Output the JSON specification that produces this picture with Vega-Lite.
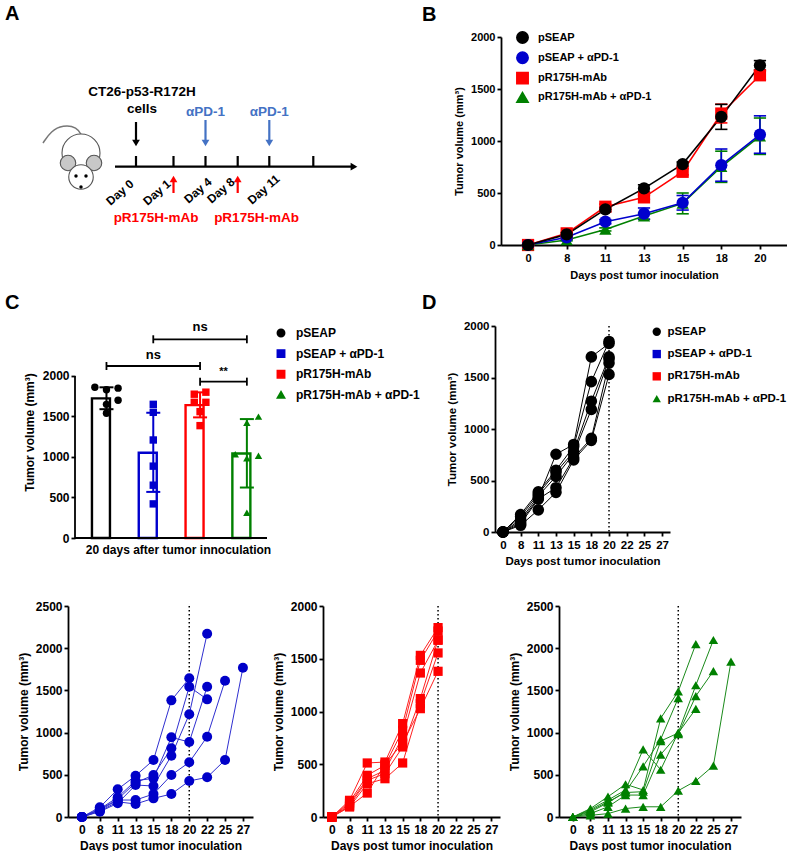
{
  "$schema": "https://vega.github.io/schema/vega-lite/v6.json",
  "padding": {"left": 5, "top": 4, "right": 0, "bottom": 0},
  "config": {
    "font": "Liberation Sans",
    "view": {"stroke": null},
    "axis": {"domainColor": "black", "domainWidth": 1.8, "tickColor": "black", "tickWidth": 1.8, "tickSize": 4, "labelColor": "black", "labelFont": "Liberation Sans", "labelFontWeight": "bold", "labelFontSize": 11, "labelPadding": 2, "titleColor": "black", "titleFont": "Liberation Sans", "titleFontWeight": "bold", "titleFontSize": 11, "grid": false, "labelAngle": 0},
    "legend": {"labelFont": "Liberation Sans", "labelFontWeight": "bold", "labelColor": "black", "labelFontSize": 11},
    "title": {"font": "Liberation Sans", "fontSize": 20, "fontWeight": "bold", "color": "black", "anchor": "start", "frame": "group", "baseline": "alphabetic"}
  },
  "datasets": {
    "bdata": [
      {"g": "pR175H-mAb", "d": 0, "m": 0, "lo": 0, "hi": 0},
      {"g": "pR175H-mAb", "d": 8, "m": 112, "lo": 102, "hi": 122},
      {"g": "pR175H-mAb", "d": 11, "m": 368, "lo": 343, "hi": 393},
      {"g": "pR175H-mAb", "d": 13, "m": 458, "lo": 438, "hi": 478},
      {"g": "pR175H-mAb", "d": 15, "m": 704, "lo": 674, "hi": 734},
      {"g": "pR175H-mAb", "d": 18, "m": 1264, "lo": 1174, "hi": 1354},
      {"g": "pR175H-mAb", "d": 20, "m": 1632, "lo": 1592, "hi": 1672},
      {"g": "pR175H-mAb + αPD-1", "d": 0, "m": 0, "lo": 0, "hi": 0},
      {"g": "pR175H-mAb + αPD-1", "d": 8, "m": 48, "lo": 40, "hi": 56},
      {"g": "pR175H-mAb + αPD-1", "d": 11, "m": 150, "lo": 135, "hi": 165},
      {"g": "pR175H-mAb + αPD-1", "d": 13, "m": 278, "lo": 248, "hi": 308},
      {"g": "pR175H-mAb + αPD-1", "d": 15, "m": 400, "lo": 300, "hi": 500},
      {"g": "pR175H-mAb + αPD-1", "d": 18, "m": 752, "lo": 602, "hi": 902},
      {"g": "pR175H-mAb + αPD-1", "d": 20, "m": 1046, "lo": 871, "hi": 1221},
      {"g": "pSEAP + αPD-1", "d": 0, "m": 0, "lo": 0, "hi": 0},
      {"g": "pSEAP + αPD-1", "d": 8, "m": 74, "lo": 64, "hi": 84},
      {"g": "pSEAP + αPD-1", "d": 11, "m": 224, "lo": 204, "hi": 244},
      {"g": "pSEAP + αPD-1", "d": 13, "m": 301, "lo": 246, "hi": 356},
      {"g": "pSEAP + αPD-1", "d": 15, "m": 406, "lo": 336, "hi": 476},
      {"g": "pSEAP + αPD-1", "d": 18, "m": 768, "lo": 613, "hi": 923},
      {"g": "pSEAP + αPD-1", "d": 20, "m": 1062, "lo": 882, "hi": 1242},
      {"g": "pSEAP", "d": 0, "m": 0, "lo": 0, "hi": 0},
      {"g": "pSEAP", "d": 8, "m": 102, "lo": 87, "hi": 117},
      {"g": "pSEAP", "d": 11, "m": 342, "lo": 322, "hi": 362},
      {"g": "pSEAP", "d": 13, "m": 544, "lo": 509, "hi": 579},
      {"g": "pSEAP", "d": 15, "m": 778, "lo": 758, "hi": 798},
      {"g": "pSEAP", "d": 18, "m": 1232, "lo": 1112, "hi": 1352},
      {"g": "pSEAP", "d": 20, "m": 1728, "lo": 1683, "hi": 1773}
    ],
    "cbar": [
      {"g": "pSEAP", "m": 1724, "lo": 1590, "hi": 1860},
      {"g": "pSEAP + αPD-1", "m": 1052, "lo": 569, "hi": 1546},
      {"g": "pR175H-mAb", "m": 1640, "lo": 1489, "hi": 1798},
      {"g": "pR175H-mAb + αPD-1", "m": 1043, "lo": 623, "hi": 1468}
    ],
    "cpts": [
      {"g": "pSEAP", "s": "a", "v": 1860}, {"g": "pSEAP", "s": "c", "v": 1830}, {"g": "pSEAP", "s": "e", "v": 1850},
      {"g": "pSEAP", "s": "c", "v": 1650}, {"g": "pSEAP", "s": "e", "v": 1700}, {"g": "pSEAP", "s": "c", "v": 1540},
      {"g": "pSEAP + αPD-1", "s": "c", "v": 1650}, {"g": "pSEAP + αPD-1", "s": "c", "v": 1552}, {"g": "pSEAP + αPD-1", "s": "c", "v": 1210},
      {"g": "pSEAP + αPD-1", "s": "c", "v": 887}, {"g": "pSEAP + αPD-1", "s": "c", "v": 652}, {"g": "pSEAP + αPD-1", "s": "c", "v": 421},
      {"g": "pR175H-mAb", "s": "b", "v": 1775}, {"g": "pR175H-mAb", "s": "d", "v": 1800}, {"g": "pR175H-mAb", "s": "b", "v": 1675},
      {"g": "pR175H-mAb", "s": "d", "v": 1675}, {"g": "pR175H-mAb", "s": "c", "v": 1560}, {"g": "pR175H-mAb", "s": "c", "v": 1387},
      {"g": "pR175H-mAb + αPD-1", "s": "e", "v": 1498}, {"g": "pR175H-mAb + αPD-1", "s": "c", "v": 1423}, {"g": "pR175H-mAb + αPD-1", "s": "a", "v": 1033},
      {"g": "pR175H-mAb + αPD-1", "s": "c", "v": 984}, {"g": "pR175H-mAb + αPD-1", "s": "e", "v": 1016}, {"g": "pR175H-mAb + αPD-1", "s": "c", "v": 312}
    ],
    "cbr": [
      {"g1": "pSEAP", "g2": "pR175H-mAb", "y": 2123},
      {"g1": "pSEAP + αPD-1", "g2": "pR175H-mAb + αPD-1", "y": 2453},
      {"g1": "pR175H-mAb", "g2": "pR175H-mAb + αPD-1", "y": 1930}
    ],
    "dmice": [
      {"m": 1, "d": 0, "v": 0}, {"m": 1, "d": 8, "v": 100}, {"m": 1, "d": 11, "v": 330}, {"m": 1, "d": 13, "v": 755}, {"m": 1, "d": 15, "v": 850}, {"m": 1, "d": 18, "v": 1700}, {"m": 1, "d": 20, "v": 1830},
      {"m": 2, "d": 0, "v": 0}, {"m": 2, "d": 8, "v": 170}, {"m": 2, "d": 11, "v": 390}, {"m": 2, "d": 13, "v": 600}, {"m": 2, "d": 15, "v": 830}, {"m": 2, "d": 18, "v": 1460}, {"m": 2, "d": 20, "v": 1850},
      {"m": 3, "d": 0, "v": 0}, {"m": 3, "d": 8, "v": 150}, {"m": 3, "d": 11, "v": 370}, {"m": 3, "d": 13, "v": 580}, {"m": 3, "d": 15, "v": 780}, {"m": 3, "d": 18, "v": 1270}, {"m": 3, "d": 20, "v": 1700},
      {"m": 4, "d": 0, "v": 0}, {"m": 4, "d": 8, "v": 120}, {"m": 4, "d": 11, "v": 350}, {"m": 4, "d": 13, "v": 540}, {"m": 4, "d": 15, "v": 760}, {"m": 4, "d": 18, "v": 1190}, {"m": 4, "d": 20, "v": 1680},
      {"m": 5, "d": 0, "v": 0}, {"m": 5, "d": 8, "v": 80}, {"m": 5, "d": 11, "v": 320}, {"m": 5, "d": 13, "v": 430}, {"m": 5, "d": 15, "v": 720}, {"m": 5, "d": 18, "v": 910}, {"m": 5, "d": 20, "v": 1640},
      {"m": 6, "d": 0, "v": 0}, {"m": 6, "d": 8, "v": 65}, {"m": 6, "d": 11, "v": 215}, {"m": 6, "d": 13, "v": 385}, {"m": 6, "d": 15, "v": 700}, {"m": 6, "d": 18, "v": 890}, {"m": 6, "d": 20, "v": 1530}
    ],
    "bmice": [
      {"m": 1, "d": 0, "v": 0}, {"m": 1, "d": 8, "v": 115}, {"m": 1, "d": 11, "v": 328}, {"m": 1, "d": 13, "v": 489}, {"m": 1, "d": 15, "v": 675}, {"m": 1, "d": 18, "v": 1382}, {"m": 1, "d": 20, "v": 1643},
      {"m": 2, "d": 0, "v": 0}, {"m": 2, "d": 8, "v": 95}, {"m": 2, "d": 11, "v": 233}, {"m": 2, "d": 13, "v": 430}, {"m": 2, "d": 15, "v": 458}, {"m": 2, "d": 18, "v": 944}, {"m": 2, "d": 20, "v": 888}, {"m": 2, "d": 22, "v": 1544},
      {"m": 3, "d": 0, "v": 0}, {"m": 3, "d": 8, "v": 90}, {"m": 3, "d": 11, "v": 210}, {"m": 3, "d": 13, "v": 406}, {"m": 3, "d": 15, "v": 497}, {"m": 3, "d": 18, "v": 814}, {"m": 3, "d": 20, "v": 1544}, {"m": 3, "d": 22, "v": 1394},
      {"m": 4, "d": 0, "v": 0}, {"m": 4, "d": 8, "v": 63}, {"m": 4, "d": 11, "v": 162}, {"m": 4, "d": 13, "v": 379}, {"m": 4, "d": 15, "v": 367}, {"m": 4, "d": 18, "v": 726}, {"m": 4, "d": 20, "v": 1217}, {"m": 4, "d": 22, "v": 2172},
      {"m": 5, "d": 0, "v": 0}, {"m": 5, "d": 8, "v": 80}, {"m": 5, "d": 11, "v": 201}, {"m": 5, "d": 13, "v": 201}, {"m": 5, "d": 15, "v": 272}, {"m": 5, "d": 18, "v": 497}, {"m": 5, "d": 20, "v": 648}, {"m": 5, "d": 22, "v": 951}, {"m": 5, "d": 25, "v": 1614},
      {"m": 6, "d": 0, "v": 0}, {"m": 6, "d": 8, "v": 70}, {"m": 6, "d": 11, "v": 180}, {"m": 6, "d": 13, "v": 154}, {"m": 6, "d": 15, "v": 221}, {"m": 6, "d": 18, "v": 272}, {"m": 6, "d": 20, "v": 427}, {"m": 6, "d": 22, "v": 470}, {"m": 6, "d": 25, "v": 675}, {"m": 6, "d": 27, "v": 1769}
    ],
    "rmice": [
      {"m": 1, "d": 0, "v": 0}, {"m": 1, "d": 8, "v": 158}, {"m": 1, "d": 11, "v": 512}, {"m": 1, "d": 13, "v": 521}, {"m": 1, "d": 15, "v": 885}, {"m": 1, "d": 18, "v": 1532}, {"m": 1, "d": 20, "v": 1795},
      {"m": 2, "d": 0, "v": 0}, {"m": 2, "d": 8, "v": 142}, {"m": 2, "d": 11, "v": 395}, {"m": 2, "d": 13, "v": 490}, {"m": 2, "d": 15, "v": 821}, {"m": 2, "d": 18, "v": 1485}, {"m": 2, "d": 20, "v": 1763},
      {"m": 3, "d": 0, "v": 0}, {"m": 3, "d": 8, "v": 126}, {"m": 3, "d": 11, "v": 363}, {"m": 3, "d": 13, "v": 442}, {"m": 3, "d": 15, "v": 758}, {"m": 3, "d": 18, "v": 1365}, {"m": 3, "d": 20, "v": 1675},
      {"m": 4, "d": 0, "v": 0}, {"m": 4, "d": 8, "v": 110}, {"m": 4, "d": 11, "v": 348}, {"m": 4, "d": 13, "v": 411}, {"m": 4, "d": 15, "v": 664}, {"m": 4, "d": 18, "v": 1122}, {"m": 4, "d": 20, "v": 1680},
      {"m": 5, "d": 0, "v": 0}, {"m": 5, "d": 8, "v": 95}, {"m": 5, "d": 11, "v": 316}, {"m": 5, "d": 13, "v": 363}, {"m": 5, "d": 15, "v": 512}, {"m": 5, "d": 18, "v": 1074}, {"m": 5, "d": 20, "v": 1555},
      {"m": 6, "d": 0, "v": 0}, {"m": 6, "d": 8, "v": 100}, {"m": 6, "d": 11, "v": 227}, {"m": 6, "d": 13, "v": 500}, {"m": 6, "d": 15, "v": 700}, {"m": 6, "d": 18, "v": 1027}, {"m": 6, "d": 20, "v": 1381}
    ],
    "gmice": [
      {"m": 1, "d": 0, "v": 0}, {"m": 1, "d": 8, "v": 100}, {"m": 1, "d": 11, "v": 241}, {"m": 1, "d": 13, "v": 388}, {"m": 1, "d": 15, "v": 320}, {"m": 1, "d": 18, "v": 1169}, {"m": 1, "d": 20, "v": 1489}, {"m": 1, "d": 22, "v": 2049},
      {"m": 2, "d": 0, "v": 0}, {"m": 2, "d": 8, "v": 88}, {"m": 2, "d": 11, "v": 201}, {"m": 2, "d": 13, "v": 320}, {"m": 2, "d": 15, "v": 800}, {"m": 2, "d": 18, "v": 560}, {"m": 2, "d": 20, "v": 1001}, {"m": 2, "d": 22, "v": 1561}, {"m": 2, "d": 25, "v": 2097},
      {"m": 3, "d": 0, "v": 0}, {"m": 3, "d": 8, "v": 60}, {"m": 3, "d": 11, "v": 169}, {"m": 3, "d": 13, "v": 300}, {"m": 3, "d": 15, "v": 600}, {"m": 3, "d": 18, "v": 921}, {"m": 3, "d": 20, "v": 1409},
      {"m": 4, "d": 0, "v": 0}, {"m": 4, "d": 8, "v": 40}, {"m": 4, "d": 11, "v": 121}, {"m": 4, "d": 13, "v": 260}, {"m": 4, "d": 15, "v": 260}, {"m": 4, "d": 18, "v": 740}, {"m": 4, "d": 20, "v": 981}, {"m": 4, "d": 22, "v": 1433}, {"m": 4, "d": 25, "v": 1729},
      {"m": 5, "d": 0, "v": 0}, {"m": 5, "d": 8, "v": 20}, {"m": 5, "d": 11, "v": 40}, {"m": 5, "d": 13, "v": 100}, {"m": 5, "d": 15, "v": 121}, {"m": 5, "d": 18, "v": 121}, {"m": 5, "d": 20, "v": 312}, {"m": 5, "d": 22, "v": 428}, {"m": 5, "d": 25, "v": 608}, {"m": 5, "d": 27, "v": 1841},
      {"m": 6, "d": 0, "v": 0}, {"m": 6, "d": 8, "v": 75}, {"m": 6, "d": 11, "v": 180}, {"m": 6, "d": 13, "v": 290}, {"m": 6, "d": 15, "v": 300}, {"m": 6, "d": 18, "v": 900}, {"m": 6, "d": 20, "v": 995}, {"m": 6, "d": 22, "v": 1281}
    ]
  },
  "spacing": 33,
  "resolve": {"scale": {"color": "independent", "shape": "independent", "stroke": "independent", "fill": "independent", "size": "independent"}},
  "vconcat": [
    {
      "spacing": 12,
      "resolve": {"scale": {"color": "independent", "shape": "independent", "stroke": "independent", "fill": "independent", "size": "independent"}},
      "vconcat": [
        {
          "bounds": "flush",
          "spacing": 33,
          "resolve": {"scale": {"color": "independent", "shape": "independent", "stroke": "independent", "fill": "independent", "size": "independent"}},
          "hconcat": [
            {
              "width": 400,
              "height": 208,
              "title": {"text": "A", "dx": -63, "offset": 13},
              "encoding": {
                "x": {"field": "x", "type": "quantitative", "scale": {"domain": [68, 468], "nice": false, "zero": false}, "axis": null},
                "y": {"field": "y", "type": "quantitative", "scale": {"domain": [37, 245], "nice": false, "zero": false, "reverse": true}, "axis": null}
              },
              "layer": [
                {
                  "data": {"values": [{"x": 82, "y": 136, "o": 1}, {"x": 77, "y": 127, "o": 2}, {"x": 63, "y": 125, "o": 3}, {"x": 51, "y": 131, "o": 4}, {"x": 43, "y": 143, "o": 5}]},
                  "mark": {"type": "line", "color": "#777777", "strokeWidth": 1.5, "interpolate": "basis"},
                  "encoding": {"order": {"field": "o", "type": "quantitative"}}
                },
                {
                  "data": {"values": [{"x": 81, "y": 153}]},
                  "mark": {"type": "point", "filled": true, "opacity": 1, "fill": "white", "stroke": "#555555", "strokeWidth": 1.1, "size": 1444}
                },
                {
                  "data": {"values": [{"x": 68, "y": 163}, {"x": 94, "y": 163}]},
                  "mark": {"type": "point", "filled": true, "opacity": 1, "fill": "#c8c8c8", "stroke": "#555555", "strokeWidth": 1.1, "size": 240}
                },
                {
                  "data": {"values": [{"x": 81, "y": 177}]},
                  "mark": {"type": "point", "filled": true, "opacity": 1, "fill": "white", "stroke": "#555555", "strokeWidth": 1.1, "size": 600}
                },
                {
                  "data": {"values": [{"x": 76, "y": 176}, {"x": 86, "y": 176}, {"x": 81, "y": 187}]},
                  "mark": {"type": "point", "filled": true, "opacity": 1, "color": "black", "size": 12}
                },
                {
                  "data": {"values": [
                    {"x": 115, "y": 166.7, "x2": 352, "y2": 166.7, "c": "k"},
                    {"x": 136, "y": 156, "x2": 136, "y2": 166.7, "c": "k"},
                    {"x": 173.5, "y": 156, "x2": 173.5, "y2": 166.7, "c": "k"},
                    {"x": 205.5, "y": 156, "x2": 205.5, "y2": 166.7, "c": "k"},
                    {"x": 237.7, "y": 156, "x2": 237.7, "y2": 166.7, "c": "k"},
                    {"x": 269.3, "y": 156, "x2": 269.3, "y2": 166.7, "c": "k"},
                    {"x": 313.3, "y": 156, "x2": 313.3, "y2": 166.7, "c": "k"},
                    {"x": 136, "y": 122, "x2": 136, "y2": 141, "c": "k"},
                    {"x": 205.5, "y": 120, "x2": 205.5, "y2": 141, "c": "b"},
                    {"x": 269.3, "y": 120, "x2": 269.3, "y2": 141, "c": "b"},
                    {"x": 173.5, "y": 193, "x2": 173.5, "y2": 181, "c": "r"},
                    {"x": 237.7, "y": 193, "x2": 237.7, "y2": 181, "c": "r"}
                  ]},
                  "mark": {"type": "rule", "strokeWidth": 2.2},
                  "encoding": {
                    "x2": {"field": "x2"},
                    "y2": {"field": "y2"},
                    "color": {"field": "c", "type": "nominal", "scale": {"domain": ["k", "b", "r"], "range": ["#000000", "#4472C4", "#FF0000"]}, "legend": null}
                  }
                },
                {
                  "data": {"values": [
                    {"x": 354, "y": 166.7, "s": "triangle-right", "c": "k"},
                    {"x": 136, "y": 143, "s": "triangle-down", "c": "k"},
                    {"x": 205.5, "y": 143, "s": "triangle-down", "c": "b"},
                    {"x": 269.3, "y": 143, "s": "triangle-down", "c": "b"},
                    {"x": 173.5, "y": 179, "s": "triangle-up", "c": "r"},
                    {"x": 237.7, "y": 179, "s": "triangle-up", "c": "r"}
                  ]},
                  "mark": {"type": "point", "filled": true, "opacity": 1, "size": 60},
                  "encoding": {
                    "shape": {"field": "s", "type": "nominal", "scale": null},
                    "color": {"field": "c", "type": "nominal", "scale": {"domain": ["k", "b", "r"], "range": ["#000000", "#4472C4", "#FF0000"]}, "legend": null}
                  }
                },
                {
                  "data": {"values": [
                    {"x": 142, "y": 92, "t": "CT26-p53-R172H", "c": "k"},
                    {"x": 142, "y": 109, "t": "cells", "c": "k"},
                    {"x": 205.5, "y": 112, "t": "αPD-1", "c": "b"},
                    {"x": 269.3, "y": 112, "t": "αPD-1", "c": "b"},
                    {"x": 156, "y": 218, "t": "pR175H-mAb", "c": "r"},
                    {"x": 256.5, "y": 218, "t": "pR175H-mAb", "c": "r"}
                  ]},
                  "mark": {"type": "text", "fontSize": 13.5, "fontWeight": "bold", "baseline": "middle", "align": "center"},
                  "encoding": {
                    "text": {"field": "t"},
                    "color": {"field": "c", "type": "nominal", "scale": {"domain": ["k", "b", "r"], "range": ["#000000", "#4472C4", "#FF0000"]}, "legend": null}
                  }
                },
                {
                  "data": {"values": [
                    {"x": 132, "y": 182, "t": "Day 0"},
                    {"x": 169, "y": 182, "t": "Day 1"},
                    {"x": 210, "y": 180, "t": "Day 4"},
                    {"x": 233, "y": 180, "t": "Day 8"},
                    {"x": 278, "y": 177, "t": "Day 11"}
                  ]},
                  "mark": {"type": "text", "fontSize": 12, "fontWeight": "bold", "baseline": "middle", "align": "right", "angle": -41, "color": "black"},
                  "encoding": {"text": {"field": "t"}}
                }
              ]
            },
            {
              "width": 286,
              "height": 208,
              "title": {"text": "B", "dx": -79, "offset": 6},
              "data": {"name": "bdata"},
              "encoding": {
                "x": {"field": "d", "type": "ordinal", "scale": {"type": "point", "domain": [0, 8, 11, 13, 15, 18, 20], "padding": 0.7}, "axis": {"title": "Days post tumor inoculation", "labelPadding": 3, "titlePadding": 6}}
              },
              "layer": [
                {
                  "mark": {"type": "line", "strokeWidth": 1.6},
                  "encoding": {
                    "y": {"field": "m", "type": "quantitative", "title": "Tumor volume (mm³)", "scale": {"domain": [0, 2000], "nice": false}, "axis": {"values": [0, 500, 1000, 1500, 2000], "format": "d", "titlePadding": 6}},
                    "stroke": {"field": "g", "type": "nominal", "title": null, "scale": {"domain": ["pSEAP", "pSEAP + αPD-1", "pR175H-mAb", "pR175H-mAb + αPD-1"], "range": ["#000000", "#0000CD", "#FF0000", "#008000"]}, "legend": {"orient": "none", "legendX": 15, "legendY": -6, "symbolSize": 130, "labelFontSize": 11, "rowPadding": 1.3, "labelOffset": 9}}
                  }
                },
                {
                  "mark": {"type": "rule", "strokeWidth": 1.6},
                  "encoding": {
                    "y": {"field": "lo", "type": "quantitative", "title": "Tumor volume (mm³)"},
                    "y2": {"field": "hi"},
                    "stroke": {"field": "g", "type": "nominal", "title": null}
                  }
                },
                {
                  "mark": {"type": "point", "shape": "M-1,0L1,0", "size": 150, "strokeWidth": 1.6, "opacity": 1},
                  "encoding": {
                    "y": {"field": "lo", "type": "quantitative", "title": "Tumor volume (mm³)"},
                    "stroke": {"field": "g", "type": "nominal", "title": null}
                  }
                },
                {
                  "mark": {"type": "point", "shape": "M-1,0L1,0", "size": 150, "strokeWidth": 1.6, "opacity": 1},
                  "encoding": {
                    "y": {"field": "hi", "type": "quantitative", "title": "Tumor volume (mm³)"},
                    "stroke": {"field": "g", "type": "nominal", "title": null}
                  }
                },
                {
                  "mark": {"type": "point", "filled": true, "opacity": 1, "size": 150},
                  "encoding": {
                    "y": {"field": "m", "type": "quantitative", "title": "Tumor volume (mm³)"},
                    "color": {"field": "g", "type": "nominal", "title": null, "scale": {"domain": ["pSEAP", "pSEAP + αPD-1", "pR175H-mAb", "pR175H-mAb + αPD-1"], "range": ["#000000", "#0000CD", "#FF0000", "#008000"]}, "legend": {"orient": "none", "legendX": 15, "legendY": -6, "symbolSize": 130, "labelFontSize": 11, "rowPadding": 1.3, "labelOffset": 9}},
                    "shape": {"field": "g", "type": "nominal", "title": null, "scale": {"domain": ["pSEAP", "pSEAP + αPD-1", "pR175H-mAb", "pR175H-mAb + αPD-1"], "range": ["circle", "circle", "square", "triangle-up"]}}
                  }
                }
              ]
            }
          ]
        },
        {
          "bounds": "flush",
          "spacing": 228,
          "resolve": {"scale": {"color": "independent", "shape": "independent", "stroke": "independent", "fill": "independent", "size": "independent"}},
          "hconcat": [
            {
              "width": 199,
              "height": 212,
              "title": {"text": "C", "dx": -63, "offset": 8},
              "layer": [
                {
                  "data": {"name": "cbar"},
                  "mark": {"type": "bar", "fill": "white", "strokeWidth": 2.4},
                  "encoding": {
                    "x": {"field": "g", "type": "nominal", "scale": {"domain": ["pSEAP", "pSEAP + αPD-1", "pR175H-mAb", "pR175H-mAb + αPD-1"], "paddingInner": 0.38, "paddingOuter": 0.316, "align": 0.81}, "axis": {"labels": false, "ticks": false, "domain": false, "title": "20 days after tumor innoculation", "titleX": 110, "titleFontSize": 12, "titlePadding": 6}},
                    "y": {"field": "m", "type": "quantitative", "title": "Tumor volume (mm³)", "scale": {"domain": [0, 2617], "nice": false}, "axis": {"values": [0, 500, 1000, 1500, 2000], "format": "d", "domain": false, "offset": -7, "labelFontSize": 12, "titleFontSize": 12, "titlePadding": 6}},
                    "stroke": {"field": "g", "type": "nominal", "title": null, "scale": {"domain": ["pSEAP", "pSEAP + αPD-1", "pR175H-mAb", "pR175H-mAb + αPD-1"], "range": ["#000000", "#0000CD", "#FF0000", "#008000"]}, "legend": {"orient": "none", "legendX": 207, "legendY": 1, "symbolSize": 55, "labelFontSize": 12, "rowPadding": 6.6, "labelOffset": 9}}
                  }
                },
                {
                  "data": {"name": "cbar"},
                  "mark": {"type": "rule", "strokeWidth": 2},
                  "encoding": {
                    "x": {"field": "g", "type": "nominal"},
                    "y": {"field": "lo", "type": "quantitative", "title": "Tumor volume (mm³)"},
                    "y2": {"field": "hi"},
                    "stroke": {"field": "g", "type": "nominal", "title": null}
                  }
                },
                {
                  "data": {"name": "cbar"},
                  "mark": {"type": "point", "shape": "M-1,0L1,0", "size": 196, "strokeWidth": 2, "opacity": 1},
                  "encoding": {
                    "x": {"field": "g", "type": "nominal"},
                    "y": {"field": "lo", "type": "quantitative", "title": "Tumor volume (mm³)"},
                    "stroke": {"field": "g", "type": "nominal", "title": null}
                  }
                },
                {
                  "data": {"name": "cbar"},
                  "mark": {"type": "point", "shape": "M-1,0L1,0", "size": 196, "strokeWidth": 2, "opacity": 1},
                  "encoding": {
                    "x": {"field": "g", "type": "nominal"},
                    "y": {"field": "hi", "type": "quantitative", "title": "Tumor volume (mm³)"},
                    "stroke": {"field": "g", "type": "nominal", "title": null}
                  }
                },
                {
                  "data": {"name": "cpts"},
                  "mark": {"type": "point", "filled": true, "opacity": 1, "size": 55},
                  "encoding": {
                    "x": {"field": "g", "type": "nominal"},
                    "xOffset": {"field": "s", "type": "nominal", "scale": {"domain": ["a", "b", "c", "d", "e"]}},
                    "y": {"field": "v", "type": "quantitative", "title": "Tumor volume (mm³)"},
                    "color": {"field": "g", "type": "nominal", "title": null, "scale": {"domain": ["pSEAP", "pSEAP + αPD-1", "pR175H-mAb", "pR175H-mAb + αPD-1"], "range": ["#000000", "#0000CD", "#FF0000", "#008000"]}, "legend": {"orient": "none", "legendX": 207, "legendY": 1, "symbolSize": 55, "labelFontSize": 12, "rowPadding": 6.6, "labelOffset": 9}},
                    "shape": {"field": "g", "type": "nominal", "title": null, "scale": {"domain": ["pSEAP", "pSEAP + αPD-1", "pR175H-mAb", "pR175H-mAb + αPD-1"], "range": ["circle", "square", "square", "triangle-up"]}}
                  }
                },
                {
                  "data": {"name": "cbr"},
                  "mark": {"type": "rule", "strokeWidth": 1.8, "color": "black"},
                  "encoding": {
                    "x": {"field": "g1", "type": "nominal", "bandPosition": 0.5},
                    "x2": {"field": "g2", "bandPosition": 0.5},
                    "y": {"field": "y", "type": "quantitative", "title": "Tumor volume (mm³)"}
                  }
                },
                {
                  "data": {"name": "cbr"},
                  "mark": {"type": "point", "shape": "M0,-1L0,1", "size": 64, "strokeWidth": 1.8, "color": "black", "opacity": 1},
                  "encoding": {
                    "x": {"field": "g1", "type": "nominal"},
                    "y": {"field": "y", "type": "quantitative", "title": "Tumor volume (mm³)"}
                  }
                },
                {
                  "data": {"name": "cbr"},
                  "mark": {"type": "point", "shape": "M0,-1L0,1", "size": 64, "strokeWidth": 1.8, "color": "black", "opacity": 1},
                  "encoding": {
                    "x": {"field": "g2", "type": "nominal"},
                    "y": {"field": "y", "type": "quantitative", "title": "Tumor volume (mm³)"}
                  }
                },
                {
                  "data": {"values": [{"t": "ns", "g": "pSEAP + αPD-1", "y": 2259}, {"t": "ns", "g": "pR175H-mAb", "y": 2609}]},
                  "mark": {"type": "text", "fontSize": 13, "fontWeight": "bold", "baseline": "middle", "color": "black"},
                  "encoding": {
                    "x": {"field": "g", "type": "nominal"},
                    "y": {"field": "y", "type": "quantitative", "title": "Tumor volume (mm³)"},
                    "text": {"field": "t"}
                  }
                },
                {
                  "data": {"values": [{"t": "**", "g": "pR175H-mAb", "y": 2045}]},
                  "mark": {"type": "text", "fontSize": 11, "fontWeight": "bold", "baseline": "middle", "color": "black", "dx": 23.5},
                  "encoding": {
                    "x": {"field": "g", "type": "nominal"},
                    "y": {"field": "y", "type": "quantitative", "title": "Tumor volume (mm³)"},
                    "text": {"field": "t"}
                  }
                },
                {
                  "data": {"values": [{"a": 1}]},
                  "mark": {"type": "rule", "strokeWidth": 1.8, "color": "black"},
                  "encoding": {
                    "x": {"value": 7},
                    "y": {"datum": 0, "type": "quantitative"},
                    "y2": {"datum": 2000}
                  }
                },
                {
                  "data": {"values": [{"a": 1}]},
                  "mark": {"type": "rule", "strokeWidth": 1.8, "color": "black"},
                  "encoding": {
                    "x": {"value": 7},
                    "x2": {"value": 199},
                    "y": {"datum": 0, "type": "quantitative"}
                  }
                }
              ]
            },
            {
              "width": 175,
              "height": 206,
              "title": {"text": "D", "dx": -73, "offset": 7},
              "encoding": {
                "x": {"field": "d", "type": "ordinal", "scale": {"type": "point", "domain": [0, 8, 11, 13, 15, 18, 20, 22, 25, 27], "padding": 0.45}, "axis": {"title": "Days post tumor inoculation", "labelFontSize": 11.5, "titleFontSize": 11.5, "labelPadding": 3, "titlePadding": 5}}
              },
              "layer": [
                {
                  "data": {"values": [{"d": 20}]},
                  "mark": {"type": "rule", "strokeDash": [1.5, 2.5], "strokeWidth": 1.5, "color": "black"},
                  "encoding": {}
                },
                {
                  "data": {"name": "dmice"},
                  "mark": {"type": "line", "strokeWidth": 1, "color": "black"},
                  "encoding": {
                    "y": {"field": "v", "type": "quantitative", "title": "Tumor volume (mm³)", "scale": {"domain": [0, 2000], "nice": false}, "axis": {"values": [0, 500, 1000, 1500, 2000], "format": "d", "labelFontSize": 11.5, "titleFontSize": 11.5, "titlePadding": 6}},
                    "detail": {"field": "m", "type": "nominal"}
                  }
                },
                {
                  "data": {"name": "dmice"},
                  "mark": {"type": "point", "filled": true, "opacity": 1, "size": 135},
                  "encoding": {
                    "y": {"field": "v", "type": "quantitative", "title": "Tumor volume (mm³)"},
                    "color": {"datum": "pSEAP", "type": "nominal", "title": null, "scale": {"domain": ["pSEAP", "pSEAP + αPD-1", "pR175H-mAb", "pR175H-mAb + αPD-1"], "range": ["#000000", "#0000CD", "#FF0000", "#008000"]}, "legend": {"orient": "none", "legendX": 156, "legendY": 0, "symbolSize": 70, "labelFontSize": 11.5, "rowPadding": 9.3, "labelOffset": 5}},
                    "shape": {"datum": "pSEAP", "type": "nominal", "title": null, "scale": {"domain": ["pSEAP", "pSEAP + αPD-1", "pR175H-mAb", "pR175H-mAb + αPD-1"], "range": ["circle", "square", "square", "triangle-up"]}}
                  }
                }
              ]
            }
          ]
        }
      ]
    },
    {
      "bounds": "flush",
      "spacing": 1,
      "hconcat": [
        {
          "width": 185,
          "height": 211,
          "encoding": {
            "x": {"field": "d", "type": "ordinal", "scale": {"type": "point", "domain": [0, 8, 11, 13, 15, 18, 20, 22, 25, 27], "padding": 0.67, "align": 0.58}, "axis": {"title": "Days post tumor inoculation", "labelFontSize": 12, "titleFontSize": 12, "labelPadding": 3, "titlePadding": 5}}
          },
          "layer": [
            {
              "data": {"values": [{"d": 20}]},
              "mark": {"type": "rule", "strokeDash": [1.5, 2.5], "strokeWidth": 1.5, "color": "black"},
              "encoding": {}
            },
            {
              "data": {"name": "bmice"},
              "mark": {"type": "line", "strokeWidth": 1, "color": "#2F2FD0"},
              "encoding": {
                "y": {"field": "v", "type": "quantitative", "title": "Tumor volume (mm³)", "scale": {"domain": [0, 2500], "nice": false}, "axis": {"values": [0, 500, 1000, 1500, 2000, 2500], "format": "d", "labelFontSize": 12, "titleFontSize": 12, "titlePadding": 5}},
                "detail": {"field": "m", "type": "nominal"}
              }
            },
            {
              "data": {"name": "bmice"},
              "mark": {"type": "point", "filled": true, "opacity": 1, "size": 100, "color": "#0000C8", "shape": "circle"},
              "encoding": {"y": {"field": "v", "type": "quantitative", "title": "Tumor volume (mm³)"}}
            }
          ]
        },
        {
          "width": 68,
          "height": 1,
          "data": {"values": [{"a": 1}]},
          "mark": {"type": "point", "opacity": 0},
          "encoding": {}
        },
        {
          "width": 177,
          "height": 211,
          "encoding": {
            "x": {"field": "d", "type": "ordinal", "scale": {"type": "point", "domain": [0, 8, 11, 13, 15, 18, 20, 22, 25, 27], "padding": 0.5}, "axis": {"title": "Days post tumor inoculation", "labelFontSize": 12, "titleFontSize": 12, "labelPadding": 3, "titlePadding": 5}}
          },
          "layer": [
            {
              "data": {"values": [{"d": 20}]},
              "mark": {"type": "rule", "strokeDash": [1.5, 2.5], "strokeWidth": 1.5, "color": "black"},
              "encoding": {}
            },
            {
              "data": {"name": "rmice"},
              "mark": {"type": "line", "strokeWidth": 1, "color": "#FF2020"},
              "encoding": {
                "y": {"field": "v", "type": "quantitative", "title": "Tumor volume (mm³)", "scale": {"domain": [0, 2000], "nice": false}, "axis": {"values": [0, 500, 1000, 1500, 2000], "format": "d", "labelFontSize": 12, "titleFontSize": 12, "titlePadding": 5}},
                "detail": {"field": "m", "type": "nominal"}
              }
            },
            {
              "data": {"name": "rmice"},
              "mark": {"type": "point", "filled": true, "opacity": 1, "size": 85, "color": "#FF0000", "shape": "square"},
              "encoding": {"y": {"field": "v", "type": "quantitative", "title": "Tumor volume (mm³)"}}
            }
          ]
        },
        {
          "width": 57,
          "height": 1,
          "data": {"values": [{"a": 1}]},
          "mark": {"type": "point", "opacity": 0},
          "encoding": {}
        },
        {
          "width": 182,
          "height": 211,
          "encoding": {
            "x": {"field": "d", "type": "ordinal", "scale": {"type": "point", "domain": [0, 8, 11, 13, 15, 18, 20, 22, 25, 27], "padding": 0.68, "align": 0.58}, "axis": {"title": "Days post tumor inoculation", "labelFontSize": 12, "titleFontSize": 12, "labelPadding": 3, "titlePadding": 5}}
          },
          "layer": [
            {
              "data": {"values": [{"d": 20}]},
              "mark": {"type": "rule", "strokeDash": [1.5, 2.5], "strokeWidth": 1.5, "color": "black"},
              "encoding": {}
            },
            {
              "data": {"name": "gmice"},
              "mark": {"type": "line", "strokeWidth": 1, "color": "#1A8A1A"},
              "encoding": {
                "y": {"field": "v", "type": "quantitative", "title": "Tumor volume (mm³)", "scale": {"domain": [0, 2500], "nice": false}, "axis": {"values": [0, 500, 1000, 1500, 2000, 2500], "format": "d", "labelFontSize": 12, "titleFontSize": 12, "titlePadding": 5}},
                "detail": {"field": "m", "type": "nominal"}
              }
            },
            {
              "data": {"name": "gmice"},
              "mark": {"type": "point", "filled": true, "opacity": 1, "size": 90, "color": "#008000", "shape": "triangle-up"},
              "encoding": {"y": {"field": "v", "type": "quantitative", "title": "Tumor volume (mm³)"}}
            }
          ]
        }
      ]
    }
  ]
}
